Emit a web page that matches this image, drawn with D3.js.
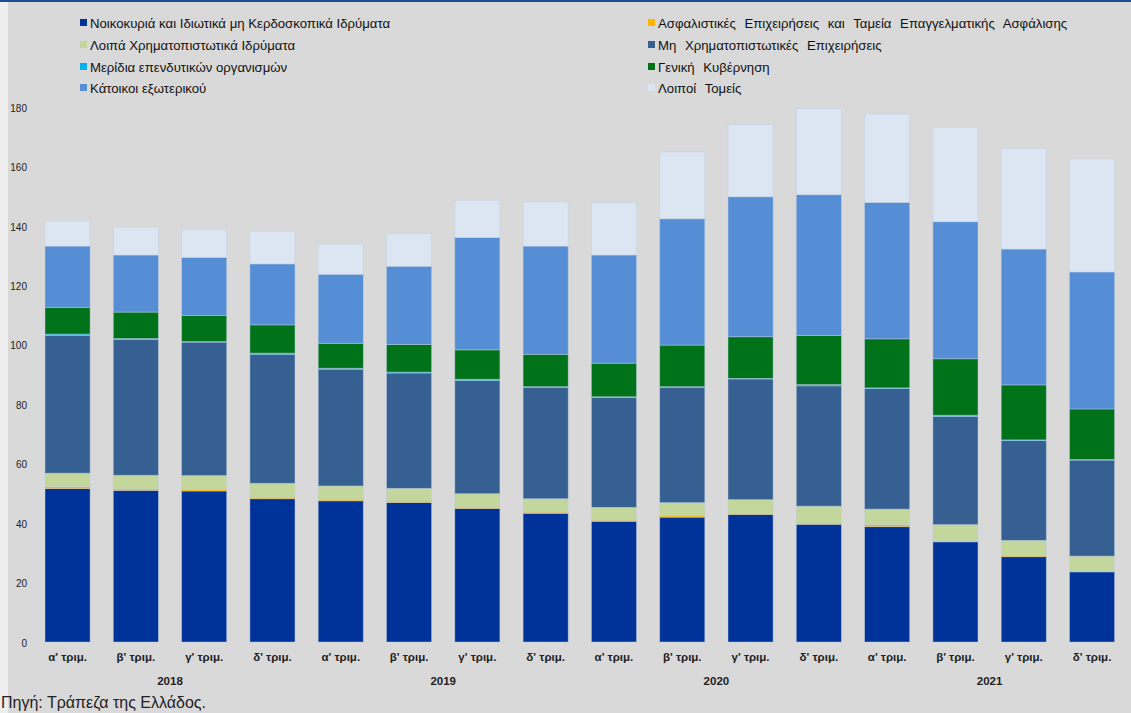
<!DOCTYPE html>
<html>
<head>
<meta charset="utf-8">
<script src="https://cdn.jsdelivr.net/npm/d3@7"></script>
<style>
  html, body { margin: 0; padding: 0; background: #d9d9d9; }
  svg { display: block; }
</style>
</head>
<body>
<svg id="chart" width="1131" height="713"></svg>
<script>
// ---- Data ----
const quarters = ["α' τριμ.", "β' τριμ.", "γ' τριμ.", "δ' τριμ.",
                  "α' τριμ.", "β' τριμ.", "γ' τριμ.", "δ' τριμ.",
                  "α' τριμ.", "β' τριμ.", "γ' τριμ.", "δ' τριμ.",
                  "α' τριμ.", "β' τριμ.", "γ' τριμ.", "δ' τριμ."];
const years = ["2018", "2019", "2020", "2021"];
const yTicks = [0, 20, 40, 60, 80, 100, 120, 140, 160, 180];

const seriesNames = [
  "Νοικοκυριά και Ιδιωτικά μη Κερδοσκοπικά Ιδρύματα",
  "Ασφαλιστικές Επιχειρήσεις και Ταμεία Επαγγελματικής Ασφάλισης",
  "Λοιπά Χρηματοπιστωτικά Ιδρύματα",
  "Μη Χρηματοπιστωτικές Επιχειρήσεις",
  "Μερίδια επενδυτικών οργανισμών",
  "Γενική Κυβέρνηση",
  "Κάτοικοι εξωτερικού",
  "Λοιποί Τομείς"
];
const seriesColors = ["#003399", "#ffb400", "#c3d69b", "#366092",
                      "#00b0f0", "#00731a", "#558ed5", "#dce6f2"];

const households   = [51.6, 51.0, 50.8, 48.2, 47.5, 46.9, 44.9, 43.3, 40.6, 42.0, 42.9, 39.6, 38.8, 33.7, 28.7, 23.6];
const insurance    = [0.7, 0.5, 0.6, 0.5, 0.4, 0.5, 0.4, 0.4, 0.4, 0.5, 0.3, 0.4, 0.7, 0.3, 0.4, 0.3];
const otherFin     = [4.5, 4.6, 4.6, 4.7, 4.6, 4.3, 4.6, 4.5, 4.3, 4.4, 4.7, 5.7, 5.2, 5.5, 5.1, 5.0];
const nonFinCorp   = [46.4, 45.7, 44.9, 43.4, 39.3, 38.8, 38.1, 37.5, 37.0, 38.8, 40.6, 40.5, 40.6, 36.4, 33.6, 32.3];
const mmfShares    = [0.4, 0.3, 0.2, 0.4, 0.3, 0.3, 0.4, 0.2, 0.2, 0.2, 0.2, 0.4, 0.2, 0.4, 0.2, 0.2];
const government   = [9.0, 8.9, 8.8, 9.5, 8.4, 9.3, 9.9, 10.9, 11.3, 14.0, 14.0, 16.5, 16.5, 19.0, 18.5, 17.0];
const nonResidents = [20.6, 19.2, 19.5, 20.5, 23.2, 26.3, 37.8, 36.4, 36.4, 42.5, 47.1, 47.4, 45.9, 46.1, 45.7, 46.1];
const otherSectors = [8.5, 9.4, 9.4, 11.0, 10.2, 11.1, 12.5, 14.9, 17.7, 22.5, 24.3, 29.0, 29.7, 31.7, 33.8, 38.0];

const seriesValues = [households, insurance, otherFin, nonFinCorp, mmfShares, government, nonResidents, otherSectors];
const keys = seriesValues.map((_, i) => "s" + i);

// Build table
const table = quarters.map((q, i) => {
  const row = { idx: i };
  seriesValues.forEach((arr, k) => { row[keys[k]] = arr[i]; });
  return row;
});

const svg = d3.select("#chart");
const W = 1131, H = 713;
const FONT = "'Liberation Sans', Arial, sans-serif";

// Background
svg.append("rect").attr("x", 0).attr("y", 0).attr("width", W).attr("height", H).attr("fill", "#d9d9d9");
svg.append("rect").attr("x", 0).attr("y", 0).attr("width", 8).attr("height", H).attr("fill", "#eeeeee");
svg.append("rect").attr("x", 0).attr("y", 0).attr("width", W).attr("height", 2).attr("fill", "#1f4e8c");

// Scales
const x = d3.scaleBand().domain(d3.range(quarters.length))
  .range([33.4, 1126.2]).paddingInner(0.34).paddingOuter(0.17);
const y = d3.scaleLinear().domain([0, 180]).range([642, 107]);

const stack = d3.stack().keys(keys);
const layers = stack(table);

svg.append("g").selectAll("g")
  .data(layers)
  .join("g")
  .attr("fill", (d, i) => seriesColors[i])
  .selectAll("rect")
  .data(d => d)
  .join("rect")
  .attr("x", d => x(d.data.idx))
  .attr("width", x.bandwidth())
  .attr("y", d => y(d[1]))
  .attr("height", d => Math.max(0, y(d[0]) - y(d[1])))
  .attr("stroke", "rgba(190,205,225,0.55)")
  .attr("stroke-width", 0.8);

// Y axis labels
const yAxis = d3.axisLeft(y).tickValues(yTicks).tickSize(0).tickPadding(0);
const yg = svg.append("g").attr("transform", "translate(27,1)").call(yAxis);
yg.select(".domain").remove();
yg.selectAll("text").attr("font-family", FONT).attr("font-size", 10).attr("fill", "#222");

// X axis labels
const xAxis = d3.axisBottom(x).tickFormat(i => quarters[i]).tickSize(0).tickPadding(0);
const xg = svg.append("g").attr("transform", "translate(0,653)").call(xAxis);
xg.select(".domain").remove();
xg.selectAll("text").attr("font-family", FONT).attr("font-size", 11.5)
  .attr("font-weight", "bold").attr("fill", "#222").attr("dy", "0.71em");

// Year labels
svg.append("g").selectAll("text")
  .data(years)
  .join("text")
  .attr("x", (d, i) => (x(i * 4 + 1) + x(i * 4 + 2) + x.bandwidth()) / 2)
  .attr("y", 685)
  .attr("text-anchor", "middle")
  .attr("font-family", FONT).attr("font-size", 11.5).attr("font-weight", "bold")
  .attr("fill", "#222")
  .text(d => d);

// Legend
const legendPos = [
  [80, 23], [648, 23],
  [80, 45], [648, 45],
  [80, 67], [648, 67],
  [80, 88], [648, 88]
];
const lg = svg.append("g").selectAll("g")
  .data(seriesNames)
  .join("g")
  .attr("transform", (d, i) => `translate(${legendPos[i][0]},${legendPos[i][1]})`);
lg.append("rect").attr("x", 0).attr("y", -4).attr("width", 7).attr("height", 7)
  .attr("fill", (d, i) => seriesColors[i]);
lg.append("text").attr("x", 10).attr("y", 0).attr("dy", "0.35em")
  .attr("font-family", FONT).attr("font-size", 13.2).attr("fill", "#111")
  .attr("word-spacing", (d, i) => i % 2 === 1 ? 5 : 0)
  .text(d => d);

// Source
svg.append("text").attr("x", 1).attr("y", 708)
  .attr("font-family", FONT).attr("font-size", 16).attr("fill", "#222")
  .text("Πηγή: Τράπεζα της Ελλάδος.");
</script>
</body>
</html>
